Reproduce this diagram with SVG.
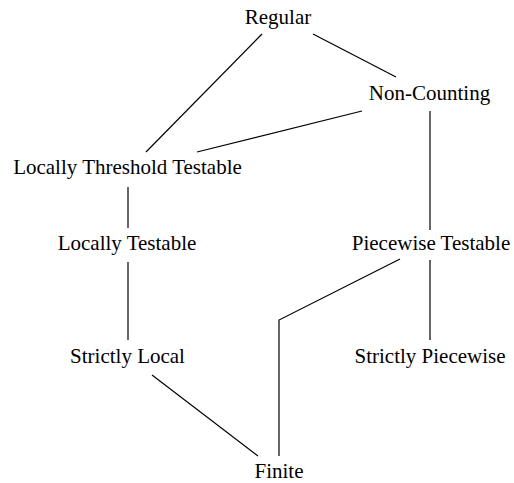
<svg xmlns="http://www.w3.org/2000/svg" width="514" height="483" viewBox="0 0 514 483">
  <style>
    .lbl { font-family: "Liberation Serif", "Times New Roman", serif; font-size: 21px; fill: #000; text-anchor: middle; }
    .edge { stroke: #000; stroke-width: 1.2; fill: none; }
  </style>
  <rect width="514" height="483" fill="#fff"/>
  <g id="connectors">
    <line class="edge" x1="262" y1="34" x2="146" y2="152"/>
    <line class="edge" x1="313" y1="34" x2="396" y2="77"/>
    <line class="edge" x1="362" y1="111" x2="197" y2="152"/>
    <line class="edge" x1="430" y1="111" x2="430" y2="230"/>
    <line class="edge" x1="128" y1="187" x2="128" y2="228"/>
    <line class="edge" x1="128" y1="262" x2="128" y2="340"/>
    <line class="edge" x1="152" y1="375" x2="258" y2="456"/>
    <polyline class="edge" points="400,259 279,320 279,456"/>
    <line class="edge" x1="430" y1="260" x2="430" y2="340"/>
  </g>
  <g id="regular"><text class="lbl" x="278" y="24">Regular</text></g>
  <g id="non-counting"><text class="lbl" x="429.5" y="100">Non-Counting</text></g>
  <g id="locally-threshold-testable"><text class="lbl" x="127.5" y="174">Locally Threshold Testable</text></g>
  <g id="locally-testable"><text class="lbl" x="127" y="250">Locally Testable</text></g>
  <g id="piecewise-testable"><text class="lbl" x="431" y="250">Piecewise Testable</text></g>
  <g id="strictly-local"><text class="lbl" x="127.5" y="363">Strictly Local</text></g>
  <g id="strictly-piecewise"><text class="lbl" x="430" y="363">Strictly Piecewise</text></g>
  <g id="finite"><text class="lbl" x="279" y="478">Finite</text></g>
</svg>
